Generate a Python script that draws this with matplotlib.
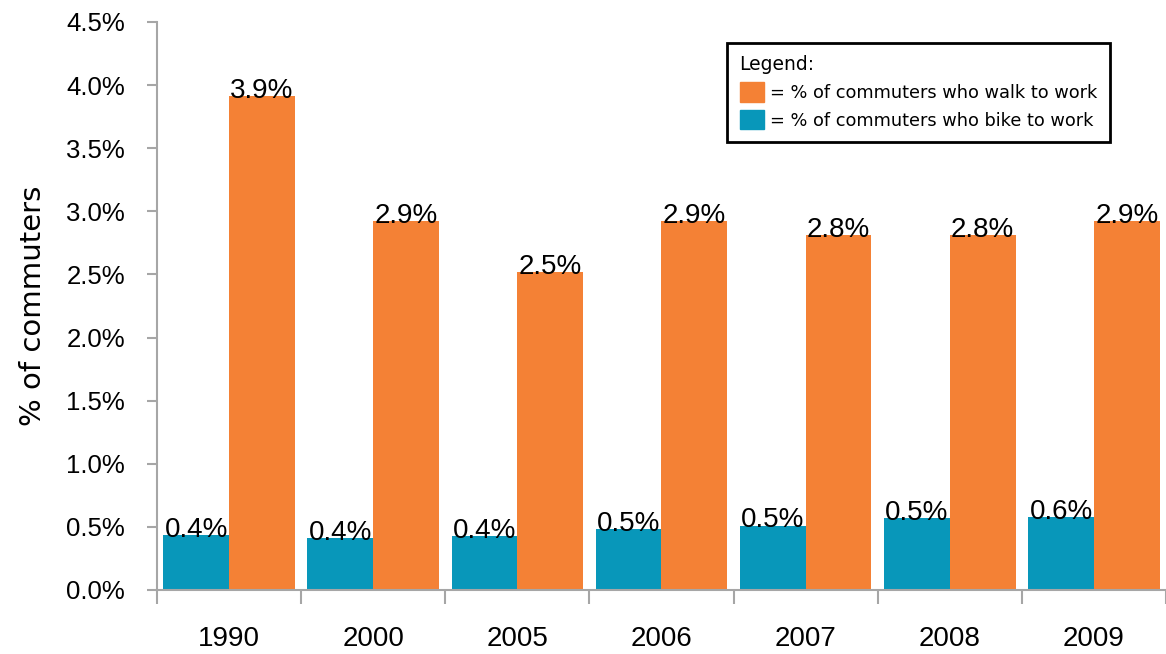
import numpy as np
import matplotlib.pyplot as plt
from matplotlib.patches import Patch
from matplotlib.ticker import FuncFormatter

years = ['1990', '2000', '2005', '2006', '2007', '2008', '2009']
bike = [0.435, 0.41, 0.43, 0.48, 0.51, 0.57, 0.58]
walk = [3.91, 2.92, 2.52, 2.92, 2.81, 2.81, 2.92]
bike_labels = ['0.4%', '0.4%', '0.4%', '0.5%', '0.5%', '0.5%', '0.6%']
walk_labels = ['3.9%', '2.9%', '2.5%', '2.9%', '2.8%', '2.8%', '2.9%']

TEAL = '#0897BA'
ORANGE = '#F48135'
GRAY = '#A6A6A6'
NUM_FONT = 'Liberation Sans'

fig = plt.figure(figsize=(11.66, 6.54), dpi=100)
ax = fig.add_axes([0.1346, 0.0979, 0.8654, 0.8685])

x = np.arange(len(years))
w = 0.456
ax.bar(x - w / 2, bike, w, color=TEAL)
ax.bar(x + w / 2, walk, w, color=ORANGE)

# value labels sit right on top of each bar
for xi, v, s in zip(x - w / 2, bike, bike_labels):
    ax.text(xi, v - 0.015, s, ha='center', va='baseline', fontsize=20, family=NUM_FONT)
for xi, v, s in zip(x + w / 2, walk, walk_labels):
    ax.text(xi, v - 0.015, s, ha='center', va='baseline', fontsize=20, family=NUM_FONT)

ax.set_xlim(-0.5, len(years) - 0.5)
ax.set_ylim(0, 4.5)
ax.set_yticks(np.arange(0, 4.51, 0.5))
ax.yaxis.set_major_formatter(FuncFormatter(lambda v, p: '%.1f%%' % v))
ax.set_xticks(x)
ax.set_xticklabels(years)
ax.set_xticks(np.arange(-0.5, len(years), 1.0), minor=True)

ax.tick_params(axis='y', length=7, width=1.5, color=GRAY, pad=16, labelsize=18.5)
ax.tick_params(axis='x', which='major', length=0, pad=26, labelsize=20)
ax.tick_params(axis='x', which='minor', length=10, width=1.5, color=GRAY)
for lab in ax.get_xticklabels() + ax.get_yticklabels():
    lab.set_family(NUM_FONT)

for s in ['top', 'right']:
    ax.spines[s].set_visible(False)
for s in ['left', 'bottom']:
    ax.spines[s].set_color(GRAY)
    ax.spines[s].set_linewidth(1.5)

ax.set_ylabel('% of commuters', fontsize=21, labelpad=14)

handles = [Patch(color=ORANGE), Patch(color=TEAL)]
leg = ax.legend(handles, ['= % of commuters who walk to work',
                          '= % of commuters who bike to work'],
                title='Legend:', title_fontsize=13.5, fontsize=12.8,
                loc='upper left', bbox_to_anchor=(0.565, 0.963),
                borderaxespad=0, alignment='left',
                handlelength=1.4, handleheight=1.3,
                handletextpad=0.3, labelspacing=0.45, borderpad=0.7,
                fancybox=False, framealpha=1, edgecolor='black')
leg.get_frame().set_linewidth(2)

fig.savefig('out.png', dpi=100)
